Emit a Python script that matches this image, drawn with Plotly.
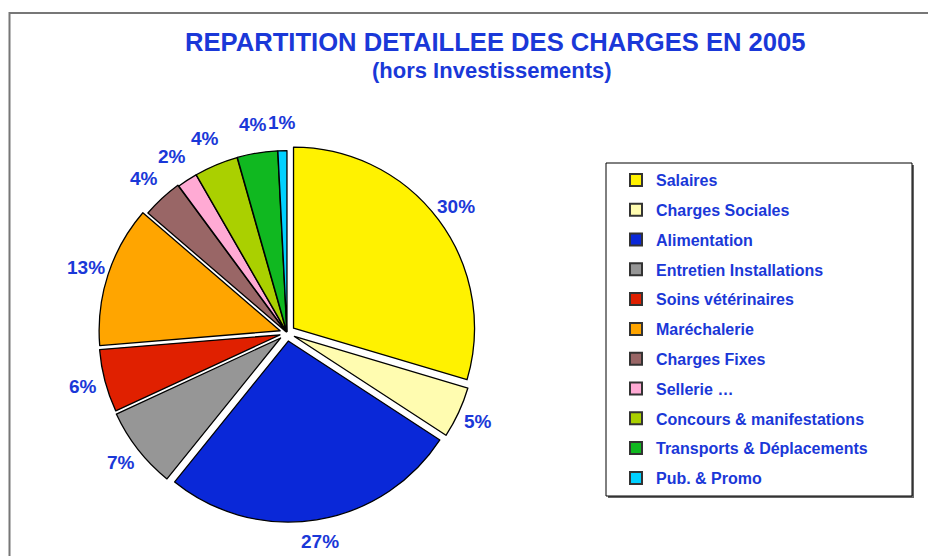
import math
import plotly.graph_objects as go

labels = ["Salaires", "Charges Sociales", "Alimentation", "Entretien Installations",
          "Soins vétérinaires", "Maréchalerie", "Charges Fixes", "Sellerie …",
          "Concours & manifestations", "Transports & Déplacements", "Pub. & Promo"]
values = [29.6, 4.6, 26.6, 7.3, 5.6, 12.6, 3.6, 1.8, 3.9, 3.6, 0.8]
colors = ["#FFF200", "#FFFCB0", "#0A28D8", "#969696", "#E02000", "#FFA500",
          "#996666", "#FFAAD4", "#AAD000", "#10B820", "#00D0FF"]
pulls = [0.045, 0.045, 0.045, 0.045, 0.04, 0.04, 0.015, 0.008, 0.008, 0.008, 0.008]

W, H = 928, 556
BLUE = "#1a38d8"
FONT = "Liberation Sans, Arial, sans-serif"

# pie geometry (pixels)
cx, cy, radius = 287.0, 333.0, 181.0
half = radius * (1 + max(pulls))
px0, px1 = cx - half, cx + half
py0, py1 = cy - half, cy + half

fig = go.Figure()
fig.add_trace(go.Pie(
    labels=labels, values=values, sort=False, direction="clockwise", rotation=0,
    marker=dict(colors=colors, line=dict(color="black", width=1.3)),
    pull=pulls, textinfo="none",
    domain=dict(x=[px0 / W, px1 / W], y=[1 - py1 / H, 1 - py0 / H]),
    showlegend=False, hoverinfo="label+percent",
))

for lab, col in zip(labels, colors):
    fig.add_trace(go.Scatter(
        x=[None], y=[None], mode="markers", name=lab, legendgroup=lab,
        marker=dict(symbol="square", size=12, color=col, line=dict(color="#333333", width=1)),
        showlegend=True,
    ))

# percentage labels placed radially outside each slice
annotations = []
total = sum(values)
cum = 0.0
for v, p in zip(values, pulls):
    mid = math.radians((cum + v / 2) / total * 360)
    cum += v
    rr = radius * 1.165
    lx = cx + rr * math.sin(mid)
    ly = cy - rr * math.cos(mid)
    annotations.append(dict(
        text="<b>%d%%</b>" % round(v / total * 100), x=lx / W, y=1 - ly / H,
        xref="paper", yref="paper", showarrow=False, xanchor="center", yanchor="middle",
        font=dict(family=FONT, size=19, color=BLUE)))

annotations += [
    dict(text="<b>REPARTITION DETAILLEE DES CHARGES EN 2005</b>", x=496 / W, y=1 - 42 / H,
         xref="paper", yref="paper", showarrow=False, xanchor="center", yanchor="middle",
         font=dict(family=FONT, size=25.6, color=BLUE)),
    dict(text="<b>(hors Investissements)</b>", x=492 / W, y=1 - 70 / H,
         xref="paper", yref="paper", showarrow=False, xanchor="center", yanchor="middle",
         font=dict(family=FONT, size=22, color=BLUE)),
]

fig.update_layout(
    width=W, height=H,
    margin=dict(l=0, r=0, t=0, b=0),
    paper_bgcolor="white", plot_bgcolor="white",
    xaxis=dict(visible=False), yaxis=dict(visible=False),
    showlegend=True,
    legend=dict(
        x=616 / W, y=1 - 163 / H, xanchor="left", yanchor="top",
        bgcolor="rgba(0,0,0,0)", borderwidth=0,
        font=dict(family=FONT, size=16, color=BLUE, weight="bold"),
        tracegroupgap=6, traceorder="grouped",
        itemsizing="constant",
    ),
    annotations=annotations,
    shapes=[
        dict(type="rect", xref="paper", yref="paper", x0=9.5 / W, x1=1.05, y0=-0.05, y1=1 - 13 / H,
             line=dict(color="#777777", width=2), layer="below"),
        dict(type="rect", xref="paper", yref="paper", x0=608 / W, x1=914 / W,
             y0=1 - 498 / H, y1=1 - 165 / H, fillcolor="#666666",
             line=dict(width=0), layer="below"),
        dict(type="rect", xref="paper", yref="paper", x0=606 / W, x1=912 / W,
             y0=1 - 496 / H, y1=1 - 163 / H, fillcolor="white",
             line=dict(color="black", width=1), layer="below"),
    ],
)

fig.write_html("out.html", config={"displayModeBar": False},
               post_script="document.body.style.margin='0';")
